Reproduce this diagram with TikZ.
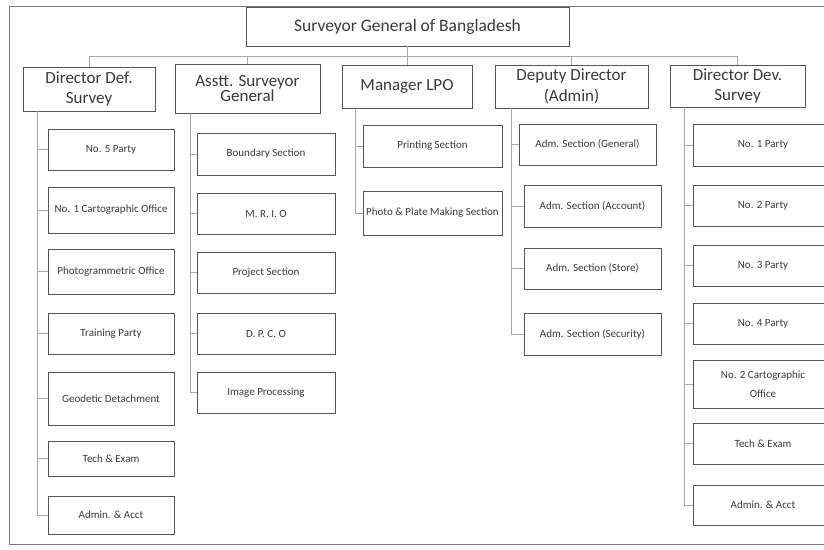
\documentclass[tikz,border=0pt]{standalone}
\usepackage{fontspec}
\setmainfont{Carlito}
\definecolor{boxc}{HTML}{555555}
\definecolor{linec}{HTML}{A8A8A8}
\definecolor{framec}{HTML}{7A7A7A}
\definecolor{txt}{HTML}{3A3A3A}
\tikzset{
  box/.style={draw=boxc, line width=1pt, fill=white, text=txt, align=center,
    inner sep=1pt, outer sep=0pt, font=\fontsize{11}{19}\selectfont},
  headbox/.style={box, font=\fontsize{17}{20.5}\selectfont},
  conn/.style={draw=linec, line width=1pt},
  framel/.style={draw=framec, line width=1pt}
}
\newcommand\cbox[5]{\node[box, minimum width=#3pt, minimum height=#4pt] (#1) at (#2) {#5};}
\begin{document}
\begin{tikzpicture}[x=1pt,y=-1pt]
\useasboundingbox (0,0) rectangle (824,549);
\clip (0,0) rectangle (824,549);
\fill[white] (0,0) rectangle (824,549);
% outer frame (open at right)
\draw[framel] (830,6) -- (9,6) -- (9,544) -- (830,544);

% top
\node[box, font=\fontsize{17.5}{20}\selectfont, minimum width=323pt, minimum height=39pt] (top) at (407.5,26.5) {Surveyor General of Bangladesh};

% level 1
\node[headbox, minimum width=132pt, minimum height=44pt] (def) at (89,89) {Director Def.\\Survey};
\node[headbox, font=\fontsize{17}{14.5}\selectfont, minimum width=145pt, minimum height=49pt] (asg) at (247.5,88.5) {Asstt. Surveyor\\General};
\node[headbox, minimum width=130pt, minimum height=43pt] (lpo) at (407,86.5) {Manager LPO};
\node[headbox, minimum width=153pt, minimum height=43pt] (dep) at (571.5,86.5) {Deputy Director\\(Admin)};
\node[headbox, minimum width=135pt, minimum height=42pt] (dev) at (737.5,86) {Director Dev.\\Survey};

% bus
\coordinate (bus) at (407.5,56);
\draw[conn] (top.south) -- (bus);
\draw[conn] (def.north) -- (def.north |- bus) -| (dev.north);
\draw[conn] (asg.north) -- (asg.north |- bus);
\draw[conn] (lpo.north) -- (lpo.north |- bus);
\draw[conn] (dep.north) -- (dep.north |- bus);

% Director Def. Survey column
\cbox{d1}{111,149.5}{126}{41}{No. 5 Party}
\cbox{d2}{111,210}{126}{46}{No. 1 Cartographic Office}
\cbox{d3}{111,271.5}{126}{45}{Photogrammetric Office}
\cbox{d4}{111,333.5}{126}{41}{Training Party}
\cbox{d5}{111,398.5}{126}{53}{Geodetic Detachment}
\cbox{d6}{111,458.5}{126}{35}{Tech \& Exam}
\cbox{d7}{111,515}{126}{38}{Admin. \& Acct}
\coordinate (sdef) at (37,111);
\draw[conn] (sdef) |- (d7.west);
\foreach \n in {d1,d2,d3,d4,d5,d6} \draw[conn] (\n.west -| sdef) -- (\n.west);

% Asstt. Surveyor General column
\cbox{a1}{266,154}{138}{42}{Boundary Section}
\cbox{a2}{266,213.5}{138}{41}{M. R. I. O}
\cbox{a3}{266,272.5}{138}{41}{Project Section}
\cbox{a4}{266,333.5}{138}{41}{D. P. C. O}
\cbox{a5}{266,392.5}{138}{41}{Image Processing}
\coordinate (sasg) at (190,113);
\draw[conn] (sasg) |- (a5.west);
\foreach \n in {a1,a2,a3,a4} \draw[conn] (\n.west -| sasg) -- (\n.west);

% Manager LPO column
\cbox{l1}{432.5,146}{139}{42}{Printing Section}
\cbox{l2}{432.5,213}{139}{44}{Photo \& Plate Making Section}
\coordinate (slpo) at (355,108);
\draw[conn] (slpo) |- (l2.west);
\draw[conn] (l1.west -| slpo) -- (l1.west);

% Deputy Director column
\cbox{p1}{587.5,144.5}{137}{41}{Adm. Section (General)}
\cbox{p2}{592.5,206}{137}{42}{Adm. Section (Account)}
\cbox{p3}{592.5,268.5}{137}{41}{Adm. Section (Store)}
\cbox{p4}{592.5,334}{137}{42}{Adm. Section (Security)}
\coordinate (sdep) at (511,108);
\draw[conn] (sdep) |- (p4.west);
\foreach \n in {p1,p2,p3} \draw[conn] (\n.west -| sdep) -- (\n.west);

% Director Dev. Survey column
\cbox{v1}{763,145}{140}{42}{No. 1 Party}
\cbox{v2}{763,205.5}{140}{41}{No. 2 Party}
\cbox{v3}{763,265.5}{140}{41}{No. 3 Party}
\cbox{v4}{763,323.5}{140}{41}{No. 4 Party}
\cbox{v5}{763,384}{140}{48}{No. 2 Cartographic\\Office}
\cbox{v6}{763,443.5}{140}{41}{Tech \& Exam}
\cbox{v7}{763,505}{140}{40}{Admin. \& Acct}
\coordinate (sdev) at (684,107);
\draw[conn] (sdev) |- (v7.west);
\foreach \n in {v1,v2,v3,v4,v5,v6} \draw[conn] (\n.west -| sdev) -- (\n.west);
\end{tikzpicture}
\end{document}
